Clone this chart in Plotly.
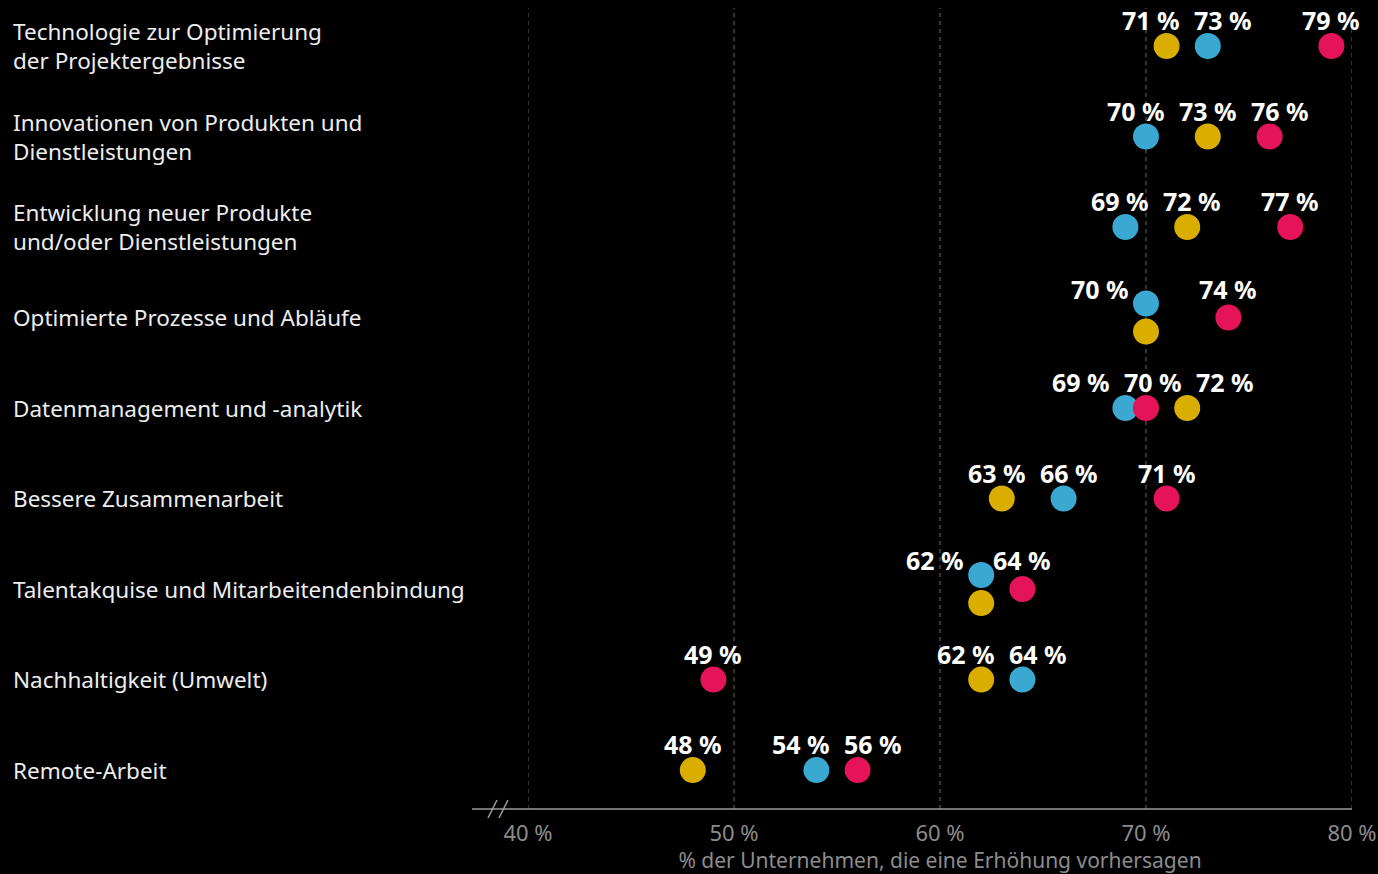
import plotly.graph_objects as go

# Kategorien (von oben nach unten)
categories = [
    "Technologie zur Optimierung<br>der Projektergebnisse",
    "Innovationen von Produkten und<br>Dienstleistungen",
    "Entwicklung neuer Produkte<br>und/oder Dienstleistungen",
    "Optimierte Prozesse und Abläufe",
    "Datenmanagement und -analytik",
    "Bessere Zusammenarbeit",
    "Talentakquise und Mitarbeitendenbindung",
    "Nachhaltigkeit (Umwelt)",
    "Remote-Arbeit",
]

# Anteile in Prozent je Reihe
gelb = [71, 73, 72, 70, 72, 63, 62, 62, 48]
blau = [73, 70, 69, 70, 69, 66, 62, 64, 54]
rot = [79, 76, 77, 74, 70, 71, 64, 49, 56]

x_ticks = [40, 50, 60, 70, 80]
x_tick_labels = [f"{v} %" for v in x_ticks]
x_title = "% der Unternehmen, die eine Erhöhung vorhersagen"

# Reihenfolge: bei gleichen Werten liegt Blau oben, Gelb darunter
series = [
    ("blau", blau, "#3AA8D0"),
    ("gelb", gelb, "#DAAE00"),
    ("rot", rot, "#E5135A"),
]
draw_order = ["gelb", "blau", "rot"]

FONT = "Noto Sans"
TIE_OFF = 0.155          # vertikaler Versatz bei gleichen Werten (Zeileneinheiten)
MIN_GAP = 3.5            # Mindestabstand der Wertebeschriftungen (in %-Punkten)
PX_PER_ROW = 90.4

# Positionen der Punkte und Beschriftungen berechnen
points = {name: ([], []) for name, _, _ in series}
labels = []  # (x, y_row, text, tie, yshift)
for r in range(len(categories)):
    groups = {}
    for name, vals, _ in series:
        groups.setdefault(vals[r], []).append(name)
    has_tie = any(len(n) > 1 for n in groups.values())
    # gemeinsame Höhe der Beschriftungen in Zeilen mit gleichen Werten
    row_shift = TIE_OFF * PX_PER_ROW + 15 if has_tie else 26
    singles = []
    for v, names in groups.items():
        if len(names) > 1:
            n = len(names)
            for k, nm in enumerate(names):
                off = (k - (n - 1) / 2) * 2 * TIE_OFF
                points[nm][0].append(v)
                points[nm][1].append(r + off)
            labels.append((v, r, f"{v} %", True, row_shift))
        else:
            points[names[0]][0].append(v)
            points[names[0]][1].append(r)
            singles.append(v)
    # Beschriftungen auseinanderschieben
    pos = sorted(float(v) for v in singles)
    for _ in range(100):
        for i in range(len(pos) - 1):
            gap = pos[i + 1] - pos[i]
            if gap < MIN_GAP:
                d = (MIN_GAP - gap) / 2
                pos[i] -= d
                pos[i + 1] += d
    for v, p in zip(sorted(singles), pos):
        labels.append((p, r, f"{v} %", False, row_shift))

colors = {name: c for name, _, c in series}

fig = go.Figure()
for name in draw_order:
    xs, ys = points[name]
    fig.add_trace(go.Scatter(
        x=xs, y=ys, mode="markers", name=name,
        marker=dict(size=26, color=colors[name], line=dict(width=0)),
        showlegend=False, hoverinfo="x+name",
    ))

annotations = []
for x, y, text, tie, ysh in labels:
    annotations.append(dict(
        x=x, y=y, xref="x", yref="y", text=f"<b>{text}</b>", showarrow=False,
        xanchor="right" if tie else "center", yanchor="middle",
        xshift=-15 if tie else 0, yshift=ysh,
        font=dict(family=FONT, size=25, color="white"),
    ))

# Kategorienbeschriftungen links
L_PAD = 528
PLOT_W = 1378 - 528 - 26
for r, cat in enumerate(categories):
    annotations.append(dict(
        x=(11 - L_PAD) / PLOT_W, y=r, xref="paper", yref="y", text=cat,
        showarrow=False, xanchor="left", yanchor="middle", align="left",
        font=dict(family=FONT, size=22.5, color="#EDEDED"),
    ))

shapes = []
# gestrichelte Gitterlinien
for v in x_ticks:
    shapes.append(dict(
        type="line", xref="x", yref="paper", x0=v, x1=v, y0=0, y1=1,
        line=dict(color="#6A6A6A", width=1, dash="4px,4px"), layer="below",
    ))
# Achsenlinie mit Achsenbruch
ax_left = (472 - L_PAD) / PLOT_W
shapes.append(dict(type="line", xref="paper", yref="paper", x0=ax_left, x1=1,
                   y0=0, y1=0, line=dict(color="#9A9A9A", width=1.5)))
for x0 in (488, 499):
    shapes.append(dict(type="line", xref="paper", yref="paper",
                       x0=(x0 - L_PAD) / PLOT_W, x1=(x0 + 9 - L_PAD) / PLOT_W,
                       y0=-9 / 800, y1=9 / 800,
                       line=dict(color="#9A9A9A", width=1.5)))

fig.update_layout(
    width=1378, height=874,
    margin=dict(l=L_PAD, r=26, t=8, b=65),
    paper_bgcolor="black", plot_bgcolor="black",
    annotations=annotations, shapes=shapes,
    xaxis=dict(
        range=[40, 80], tickvals=x_ticks, ticktext=x_tick_labels,
        showgrid=False, zeroline=False, showline=False, ticks="",
        ticklabelstandoff=9, automargin=False,
        tickfont=dict(family=FONT, size=22, color="#8C8C8C"),
        title=dict(text=x_title, standoff=10,
                   font=dict(family=FONT, size=21, color="#8C8C8C")),
    ),
    yaxis=dict(range=[8.43, -0.42], visible=False, showgrid=False, zeroline=False),
)

fig.write_html("out.html")
